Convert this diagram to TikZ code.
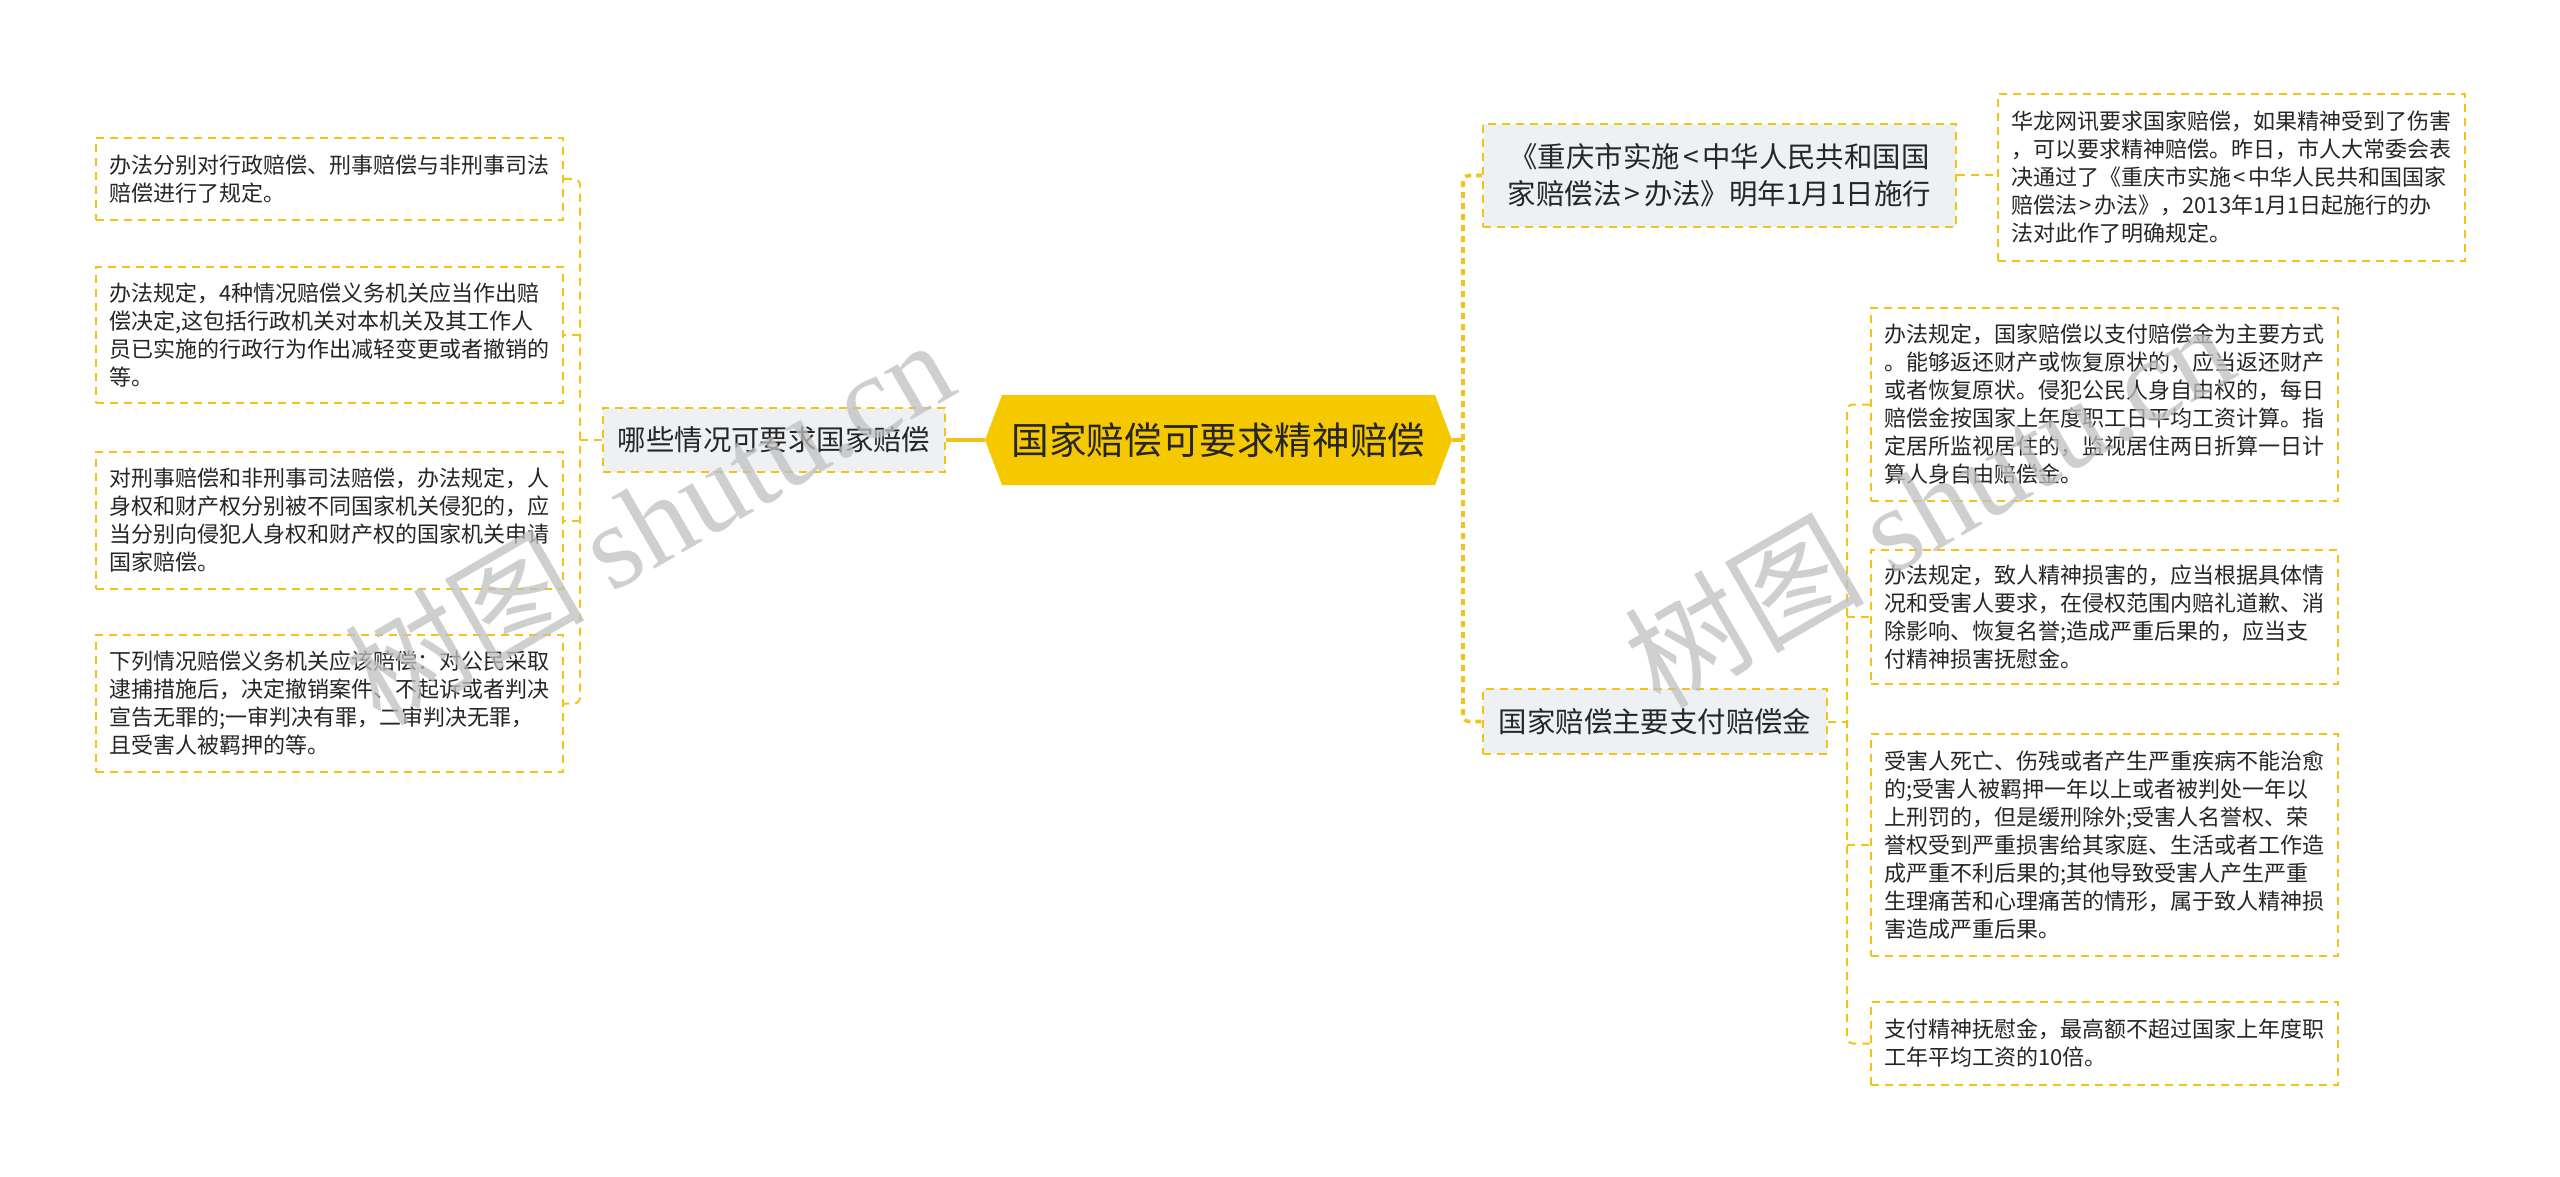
\documentclass[tikz,border=0pt]{standalone}
\usepackage{fontspec}
\setmainfont{Noto Sans CJK SC}
\newfontfamily\wmcjk{Noto Sans CJK SC}
\newfontfamily\wmserif{Liberation Serif}
\usetikzlibrary{calc}
\definecolor{ycol}{RGB}{242,196,24}
\definecolor{cfill}{RGB}{246,200,0}
\definecolor{bfill}{RGB}{238,241,244}
\definecolor{txt}{RGB}{38,38,38}
\definecolor{wmgray}{RGB}{192,192,192}
\newcommand{\lt}{\kern0.12em<\kern0.12em}
\newcommand{\gt}{\kern0.12em>\kern0.12em}
\tikzset{
  leaf/.style={draw=ycol, line width=1pt, dash pattern=on 4pt off 3pt, fill=white,
    anchor=north west, align=left, inner xsep=6.5pt, inner ysep=0pt, text width=220.5pt,
    font=\fontsize{11pt}{14pt}\selectfont, text=txt},
  bnode/.style={draw=ycol, line width=1pt, dash pattern=on 4pt off 3pt, fill=bfill,
    align=center, inner sep=0pt, font=\fontsize{14.2pt}{18.5pt}\selectfont, text=txt},
  cnode/.style={inner sep=0pt, minimum width=233.5pt, minimum height=45pt,
    font=\fontsize{18.8pt}{22pt}\selectfont, text=txt},
  conn/.style={draw=ycol, line width=1pt, dash pattern=on 4pt off 3pt, rounded corners=3pt},
  trunkline/.style={draw=ycol, line width=1.8pt, dash pattern=on 3pt off 2.5pt, rounded corners=3pt},
  solidlink/.style={draw=ycol, line width=1.8pt},
  wm/.style={text=wmgray, opacity=0.75, inner sep=0pt, font=\fontsize{60pt}{62pt}\selectfont}
}
\begin{document}
\begin{tikzpicture}[x=0.5pt,y=-0.5pt]
\useasboundingbox (0,0) rectangle (2560,1177);
\fill[white] (0,0) rectangle (2560,1177);

% central node (hexagon)
\fill[cfill] (985,440) -- (1002,395) -- (1435,395) -- (1452,440) -- (1435,485) -- (1002,485) -- cycle;
\node[cnode] (center) at (1218.5,440) {国家赔偿可要求精神赔偿};

% branch nodes
\node[bnode, minimum width=171pt, minimum height=32pt] (lnode) at (774,440) {哪些情况可要求国家赔偿};
\node[bnode, minimum width=236.5pt, minimum height=51.5pt] (R1) at (1719.5,175.5) {《重庆市实施\lt 中华人民共和国国\\家赔偿法\gt 办法》明年1月1日施行};
\node[bnode, minimum width=172pt, minimum height=32.5pt] (R2) at (1655,721.5) {国家赔偿主要支付赔偿金};

% left leaves
\node[leaf, minimum height=41pt] (L1) at (95,137) {办法分别对行政赔偿、刑事赔偿与非刑事司法\\赔偿进行了规定。};
\node[leaf, minimum height=68pt] (L2) at (95,266) {办法规定，4种情况赔偿义务机关应当作出赔\\偿决定,这包括行政机关对本机关及其工作人\\员已实施的行政行为作出减轻变更或者撤销的\\等。};
\node[leaf, minimum height=68.5pt] (L3) at (95,451) {对刑事赔偿和非刑事司法赔偿，办法规定，人\\身权和财产权分别被不同国家机关侵犯的，应\\当分别向侵犯人身权和财产权的国家机关申请\\国家赔偿。};
\node[leaf, minimum height=68.5pt] (L4) at (95,634) {下列情况赔偿义务机关应该赔偿：对公民采取\\逮捕措施后，决定撤销案件、不起诉或者判决\\宣告无罪的;一审判决有罪，二审判决无罪，\\且受害人被羁押的等。};

% right leaves
\node[leaf, minimum height=83.5pt] (R1leaf) at (1997,93) {华龙网讯要求国家赔偿，如果精神受到了伤害\\，可以要求精神赔偿。昨日，市人大常委会表\\决通过了《重庆市实施\lt 中华人民共和国国家\\赔偿法\gt 办法》，2013年1月1日起施行的办\\法对此作了明确规定。};
\node[leaf, minimum height=96.5pt] (Ra) at (1870,307) {办法规定，国家赔偿以支付赔偿金为主要方式\\。能够返还财产或恢复原状的，应当返还财产\\或者恢复原状。侵犯公民人身自由权的，每日\\赔偿金按国家上年度职工日平均工资计算。指\\定居所监视居住的，监视居住两日折算一日计\\算人身自由赔偿金。};
\node[leaf, minimum height=67pt] (Rb) at (1870,549) {办法规定，致人精神损害的，应当根据具体情\\况和受害人要求，在侵权范围内赔礼道歉、消\\除影响、恢复名誉;造成严重后果的，应当支\\付精神损害抚慰金。};
\node[leaf, minimum height=111pt] (Rc) at (1870,733) {受害人死亡、伤残或者产生严重疾病不能治愈\\的;受害人被羁押一年以上或者被判处一年以\\上刑罚的，但是缓刑除外;受害人名誉权、荣\\誉权受到严重损害给其家庭、生活或者工作造\\成严重不利后果的;其他导致受害人产生严重\\生理痛苦和心理痛苦的情形，属于致人精神损\\害造成严重后果。};
\node[leaf, minimum height=41.5pt] (Rd) at (1870,1001) {支付精神抚慰金，最高额不超过国家上年度职\\工年平均工资的10倍。};

% connectors left
\coordinate (tL) at (580,440);
\draw[solidlink] (center.west) -- (lnode.east);
\draw[conn] (lnode.west) -- (tL);
\draw[conn] (L1.east) -| (tL |- L4.east) -- (L4.east);
\draw[conn] (tL |- L2.east) -- (L2.east);
\draw[conn] (tL |- L3.east) -- (L3.east);

% connectors right
\coordinate (tR) at (1463,440);
\draw[solidlink] (center.east) -- (tR);
\draw[trunkline] (R1.west) -| (tR |- R2.west) -- (R2.west);
\draw[conn] (R1.east) -- (R1.east -| R1leaf.west);
\coordinate (t2) at (1847,721.5);
\draw[conn] (R2.east) -- (t2);
\draw[conn] (Ra.west) -| (t2 |- Rd.west) -- (Rd.west);
\draw[conn] (t2 |- Rb.west) -- (Rb.west);
\draw[conn] (t2 |- Rc.west) -- (Rc.west);

% watermarks
\node[wm, rotate=30] (wm1) at (648,520) {{\wmcjk 树图} {\wmserif shutu.cn}};
\node[wm, rotate=30] (wm2) at (1928,503) {{\wmcjk 树图} {\wmserif shutu.cn}};
\end{tikzpicture}
\end{document}
